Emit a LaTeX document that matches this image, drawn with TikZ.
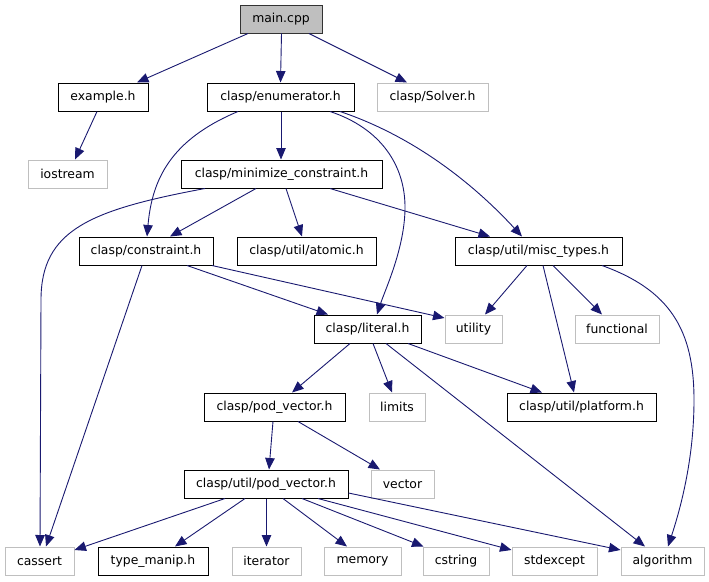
\documentclass[tikz,border=0pt]{standalone}
\usepackage{fontspec}
\setmainfont{DejaVu Sans}
\usetikzlibrary{arrows.meta}
\definecolor{edgeblue}{HTML}{191970}
\definecolor{lightgrayline}{HTML}{BFBFBF}
\begin{document}
\begin{tikzpicture}[x=1pt,y=-1pt,
  box/.style={draw=black,line width=1pt,minimum height=28pt,inner sep=0pt,font=\fontsize{12.4pt}{14pt}\selectfont},
  extbox/.style={box,draw=lightgrayline},
  rootbox/.style={box,fill=lightgrayline,draw=black!80},
  dep/.style={draw=edgeblue,line width=0.9pt,-{Triangle[length=11.5pt,width=9.5pt]}}]
\useasboundingbox (0,0) rectangle (709,581);
% nodes
\node[rootbox,minimum width=82pt] (main) at (281,19) {main.cpp};
\node[box,minimum width=90pt] (example) at (103,97) {example.h};
\node[box,minimum width=147pt] (enum) at (280.5,97) {clasp/enumerator.h};
\node[extbox,minimum width=111pt] (solver) at (432.5,97) {clasp/Solver.h};
\node[extbox,minimum width=79pt] (iostream) at (67.5,174) {iostream};
\node[box,minimum width=201pt] (minc) at (281.5,174) {clasp/minimize\_constraint.h};
\node[box,minimum width=134pt] (constr) at (146,251) {clasp/constraint.h};
\node[box,minimum width=139pt] (atomic) at (306.5,251) {clasp/util/atomic.h};
\node[box,minimum width=167pt] (misc) at (538.5,251) {clasp/util/misc\_types.h};
\node[box,minimum width=107pt] (literal) at (367.5,329) {clasp/literal.h};
\node[extbox,minimum width=57pt] (utility) at (473.5,329) {utility};
\node[extbox,minimum width=84pt] (functional) at (617,329) {functional};
\node[extbox,minimum width=56pt] (limits) at (397,407) {limits};
\node[box,minimum width=141pt] (podv) at (274.5,407) {clasp/pod\_vector.h};
\node[box,minimum width=149pt] (platform) at (581.5,407) {clasp/util/platform.h};
\node[extbox,minimum width=63pt] (vector) at (402.5,484) {vector};
\node[box,minimum width=164pt] (upv) at (266,484) {clasp/util/pod\_vector.h};
\node[extbox,minimum width=69pt] (cassert) at (39.5,561) {cassert};
\node[box,minimum width=110pt] (tmanip) at (153,561) {type\_manip.h};
\node[extbox,minimum width=69pt] (iterator) at (266.5,561) {iterator};
\node[extbox,minimum width=77pt] (memory) at (362.5,561) {memory};
\node[extbox,minimum width=66pt] (cstring) at (456,561) {cstring};
\node[extbox,minimum width=85pt] (stdexcept) at (554.5,561) {stdexcept};
\node[extbox,minimum width=83pt] (algorithm) at (662.5,561) {algorithm};
% edges
\draw[dep] ([xshift=-33pt]main.south) -- ([xshift=34pt]example.north);
\draw[dep] ([xshift=0.5pt]main.south) -- (enum.north);
\draw[dep] ([xshift=28pt]main.south) -- ([xshift=-25.5pt]solver.north);
\draw[dep] ([xshift=-6pt]example.south) -- ([xshift=7.5pt]iostream.north);
\draw[dep] ([xshift=0.5pt]enum.south) -- ([xshift=-0.5pt]minc.north);
\draw[dep] ([xshift=-42.5pt]enum.south) .. controls (170,140) and (152,180) .. ([xshift=1pt]constr.north);
\draw[dep] ([xshift=49.5pt]enum.south) .. controls (380,128) and (406,165) .. (405,210) .. controls (404,250) and (385,290) .. ([xshift=9.5pt]literal.north);
\draw[dep] ([xshift=59.5pt]enum.south) .. controls (410,135) and (470,180) .. ([xshift=-16.5pt]misc.north);
\draw[dep] ([xshift=-76.5pt]minc.south) .. controls (90,210) and (41,230) .. (41,300) -- ([xshift=0.5pt]cassert.north);
\draw[dep] ([xshift=-25.5pt]minc.south) -- ([xshift=24pt]constr.north);
\draw[dep] ([xshift=4.5pt]minc.south) -- ([xshift=-4.5pt]atomic.north);
\draw[dep] ([xshift=48.5pt]minc.south) -- ([xshift=-48.5pt]misc.north);
\draw[dep] ([xshift=-4pt]constr.south) -- ([xshift=6.5pt]cassert.north);
\draw[dep] ([xshift=41pt]constr.south) -- ([xshift=-39.5pt]literal.north);
\draw[dep] ([xshift=66pt]constr.south) -- ([yshift=11pt]utility.west);
\draw[dep] ([xshift=-11.5pt]misc.south) -- ([xshift=11.5pt]utility.north);
\draw[dep] ([xshift=4.5pt]misc.south) -- ([xshift=-7.5pt]platform.north);
\draw[dep] ([xshift=14.5pt]misc.south) -- ([xshift=-15pt]functional.north);
\draw[dep] ([xshift=63.5pt]misc.south) .. controls (670,290) and (694,330) .. (694,400) .. controls (694,460) and (680,510) .. ([xshift=5.5pt]algorithm.north);
\draw[dep] ([xshift=-17.5pt]literal.south) -- ([xshift=17.5pt]podv.north);
\draw[dep] ([xshift=5.5pt]literal.south) -- ([xshift=-5pt]limits.north);
\draw[dep] ([xshift=40.5pt]literal.south) -- ([xshift=-39.5pt]platform.north);
\draw[dep] ([xshift=18.5pt]literal.south) -- ([xshift=-17.5pt]algorithm.north);
\draw[dep] ([xshift=-1.5pt]podv.south) -- ([xshift=3pt]upv.north);
\draw[dep] ([xshift=23.5pt]podv.south) -- ([xshift=-22.5pt]vector.north);
\draw[dep] ([xshift=-41pt]upv.south) -- ([yshift=11pt]cassert.east);
\draw[dep] ([xshift=-21pt]upv.south) -- ([xshift=22pt]tmanip.north);
\draw[dep] ([xshift=0.5pt]upv.south) -- (iterator.north);
\draw[dep] ([xshift=17pt]upv.south) -- ([xshift=-15.5pt]memory.north);
\draw[dep] ([xshift=36pt]upv.south) -- ([xshift=1pt]cstring.north west);
\draw[dep] ([xshift=52pt]upv.south) -- ([yshift=11pt]stdexcept.west);
\draw[dep] ([yshift=-9pt]upv.east) -- ([yshift=11pt]algorithm.west);
\end{tikzpicture}
\end{document}
